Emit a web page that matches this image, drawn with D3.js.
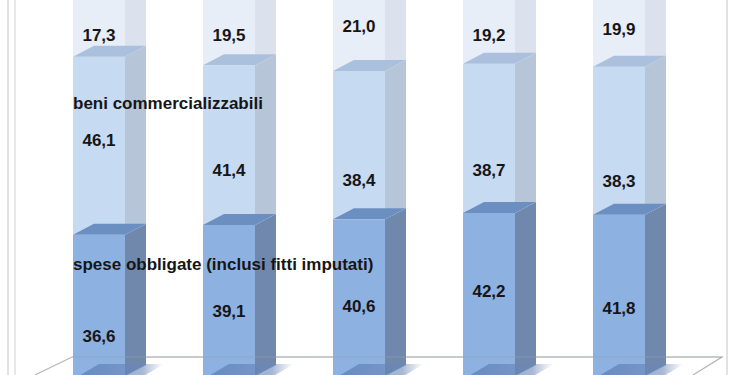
<!DOCTYPE html>
<html>
<head>
<meta charset="utf-8">
<script src="https://cdn.jsdelivr.net/npm/d3@7"></script>
<style>
  body { margin: 0; background: #fff; }
  svg { display: block; font-family: "Liberation Sans", Arial, sans-serif; }
</style>
</head>
<body>
<svg id="chart" width="750" height="375"></svg>
<script>
// data (shares, %)
var categories = ["1", "2", "3", "4", "5"];
var spese = [36.6, 39.1, 40.6, 42.2, 41.8];
var beni = [46.1, 41.4, 38.4, 38.7, 38.3];
var altro = [17.3, 19.5, 21.0, 19.2, 19.9];
var seriesNames = ["spese obbligate (inclusi fitti imputati)", "beni commercializzabili"];

// where each value label sits, in value units along the stack
var labelAt = [
    [10.4, 16.8, 18.1, 22.0, 17.6],
    [61.1, 53.4, 50.8, 53.4, 50.5],
    [88.3, 88.3, 90.7, 88.3, 89.9]
];

var svg = d3.select("#chart");

var x = d3.scaleBand().domain(categories).range([34, 684]).paddingInner(0.6).paddingOuter(0.3);
var y = d3.scaleLinear().domain([0, 100]).range([376, -10]);

var dx = 21, dy = -11;
var w = x.bandwidth();

var colors = [
    { front: "#8db1e0", side: "#7088ac", top: "#6c8fc2" },
    { front: "#c6daf2", side: "#b6c5d8", top: "#aac0dd" },
    { front: "#e8eef8", side: "#dbe2ed", top: "#d0dae8" }
];

var stack = d3.stack().keys([0, 1, 2]).value(function (d, k) { return d[k]; });
var rows = categories.map(function (c, i) { return [spese[i], beni[i], altro[i]]; });
var layers = stack(rows);

// borders
svg.append("line").attr("x1", 8).attr("x2", 8).attr("y1", 0).attr("y2", 375).attr("stroke", "#c4c4c4");
svg.append("line").attr("x1", 15).attr("x2", 15).attr("y1", 0).attr("y2", 375).attr("stroke", "#d0d0d0");
svg.append("line").attr("x1", 727).attr("x2", 727).attr("y1", 0).attr("y2", 375).attr("stroke", "#c4c4c4");

// floor
var fy = 357;
svg.append("path")
    .attr("d", "M35,375L72,357L722,357L693,375")
    .attr("fill", "none").attr("stroke", "#b4b4b4").attr("stroke-width", 1.2);

var g = svg.append("g");

function pts(a) { return a.map(function (p) { return p.join(","); }).join(" "); }

layers.forEach(function (layer, k) {
    var c = colors[k];
    layer.forEach(function (d, i) {
        var x0 = x(categories[i]);
        var yb = y(d[0]), yt = y(d[1]);
        g.append("polygon").attr("points", pts([[x0, yt], [x0 + w, yt], [x0 + w, yb], [x0, yb]])).attr("fill", c.front);
        g.append("polygon").attr("points", pts([[x0 + w, yt], [x0 + w + dx, yt + dy], [x0 + w + dx, yb + dy], [x0 + w, yb]])).attr("fill", c.side);
    });
});

// top faces drawn over (bars are see-through in the original)
layers.forEach(function (layer, k) {
    var c = colors[k];
    layer.forEach(function (d, i) {
        var x0 = x(categories[i]);
        var yt = y(d[1]);
        g.append("polygon").attr("points", pts([[x0, yt], [x0 + dx, yt + dy], [x0 + w + dx, yt + dy], [x0 + w, yt]])).attr("fill", c.top);
    });
});

// floor line seen through the bars
svg.append("line").attr("x1", 72).attr("x2", 722).attr("y1", fy).attr("y2", fy)
    .attr("stroke", "#9aa4b0").attr("stroke-opacity", 0.5);

// shadows at the base
var defs = svg.append("defs");
var grad = defs.append("linearGradient").attr("id", "shade");
grad.append("stop").attr("offset", "0%").attr("stop-color", "#5b7db2").attr("stop-opacity", 0.75);
grad.append("stop").attr("offset", "75%").attr("stop-color", "#6a88b8").attr("stop-opacity", 0.6);
grad.append("stop").attr("offset", "100%").attr("stop-color", "#8a9cb8").attr("stop-opacity", 0);

categories.forEach(function (c) {
    var x0 = x(c);
    svg.append("polygon")
        .attr("points", pts([[x0 + 4, 377], [x0 + 26, 364], [x0 + w + dx + 18, 364], [x0 + w + dx - 4, 377]]))
        .attr("fill", "url(#shade)");
});

// value labels
var fmt = function (v) { return d3.format(".1f")(v).replace(".", ","); };
layers.forEach(function (layer, k) {
    layer.forEach(function (d, i) {
        svg.append("text")
            .attr("x", x(categories[i]) + w / 2)
            .attr("y", y(labelAt[k][i]))
            .attr("dy", "0.36em")
            .attr("text-anchor", "middle")
            .attr("font-size", 17)
            .attr("font-weight", "bold")
            .attr("fill", "#161616")
            .text(fmt(d.data[k]));
    });
});

// series names
svg.append("text").attr("x", 73).attr("y", 270)
    .attr("font-size", 17).attr("font-weight", "bold").attr("fill", "#161616")
    .text(seriesNames[0]);
svg.append("text").attr("x", 73).attr("y", 109)
    .attr("font-size", 17).attr("font-weight", "bold").attr("fill", "#161616")
    .text(seriesNames[1]);
</script>
</body>
</html>
